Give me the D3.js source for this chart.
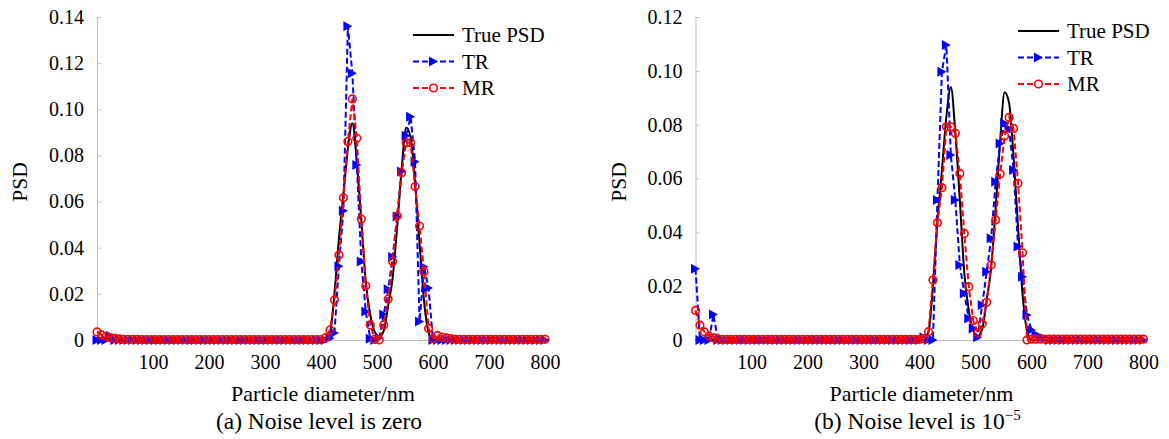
<!DOCTYPE html>
<html>
<head>
<meta charset="utf-8">
<script src="https://cdn.jsdelivr.net/npm/d3@7/dist/d3.min.js"></script>
<style>
  body { margin: 0; background: #fff; }
  svg { display: block; }
  svg text { font-family: "Liberation Serif", "Times New Roman", serif; }
</style>
</head>
<body>
<svg id="chart" width="1169" height="439"></svg>
<script>
// particle diameter grid (nm)
var diameters = [0,8,16,24,32,40,48,56,64,72,80,88,96,104,112,120,128,136,144,152,160,168,176,184,192,200,
  208,216,224,232,240,248,256,264,272,280,288,296,304,312,320,328,336,344,352,360,368,376,384,392,400,
  408,416,424,432,440,448,456,464,472,480,488,496,504,512,520,528,536,544,552,560,568,576,584,592,600,
  608,616,624,632,640,648,656,664,672,680,688,696,704,712,720,728,736,744,752,760,768,776,784,792,800];

// true PSD (same in both panels)
var truePSD = [0,0,0,0,0,0,0,0,0,0,0,0,0,0,0,0,0,0,0,0,0,0,0,0,0,0,
  0,0,0,0,0,0,0,0,0,0,0,0,0,0,0,0,0,0,0,0,0,0,0,0,0,
  0.0005,0.003,0.02,0.044,0.063,0.083,0.094,0.077,0.052,0.025,0.011,0.0035,0.0015,0.004,0.015,0.027,0.049,0.074,0.092,0.088,0.068,0.042,0.017,0.0035,0,
  0,0,0,0,0,0,0,0,0,0,0,0,0,0,0,0,0,0,0,0,0,0,0,0,0];

// (a) noise level zero
var trZero = [0,0,0,0.0018,0,0,0,0,0,0,0,0,0,0,0,0,0,0,0,0,0,0,0,0,0,0,
  0,0,0,0,0,0,0,0,0,0,0,0,0,0,0,0,0,0,0,0,0,0,0,0,0,
  0,0.0008,0.003,0.032,0.056,0.136,0.1156,0.0758,0.034,0.0123,0.0005,0,0.001,0.011,0.022,0.036,0.0535,0.073,0.0885,0.0968,0.0773,0.008,0.0318,0.0225,0,
  0,0,0,0,0,0,0,0,0,0,0,0,0,0,0,0,0,0,0,0,0,0,0,0,0];
var mrZero = [0.0035,0.0022,0.0015,0.001,0.0007,0.0005,0.0003,0.0003,0.0003,0.0003,0.0002,0.0002,0.0002,0.0002,0.0002,0.0002,0.0002,0.0002,0.0002,0.0002,0.0002,0.0002,0.0002,0.0002,0.0002,0.0002,
  0.0002,0.0002,0.0002,0.0002,0.0002,0.0002,0.0002,0.0002,0.0002,0.0002,0.0002,0.0002,0.0002,0.0002,0.0002,0.0002,0.0002,0.0002,0.0002,0.0002,0.0002,0.0002,0.0002,0.0002,0.0002,
  0.001,0.0043,0.0173,0.0368,0.0617,0.086,0.1045,0.0874,0.0524,0.0235,0.0065,0.0003,0,0.0065,0.0178,0.034,0.0537,0.0725,0.0855,0.0855,0.0665,0.0494,0.0296,0.005,0.0007,
  0.002,0.0013,0.0009,0.0006,0.0003,0.0003,0.0003,0.0003,0.0003,0.0003,0.0003,0.0003,0.0003,0.0003,0.0003,0.0003,0.0003,0.0003,0.0003,0.0003,0.0003,0.0003,0.0003,0.0003,0.0003];

// (b) noise level 1e-5
var trNoise = [0.0265,0,0,0,0.0095,0,0,0,0,0,0,0,0,0,0,0,0,0,0,0,0,0,0,0,0,0,
  0,0,0,0,0,0,0,0,0,0,0,0,0,0,0,0,0,0,0,0,0,0,0,0,0,
  0.001,0,0,0.052,0.0997,0.1096,0.0687,0.052,0.0279,0.0173,0.008,0.0043,0.001,0.013,0.0254,0.0378,0.0588,0.073,0.0805,0.0785,0.0632,0.0347,0.0235,0.0093,0.0037,
  0.002,0.0012,0.0006,0,0,0,0,0,0,0,0,0,0,0,0,0,0,0,0,0,0,0,0,0,0];
var mrNoise = [0.011,0.0055,0.003,0.0015,0.0008,0.0004,0.0002,0.0002,0.0002,0.0002,0.0002,0.0002,0.0002,0.0002,0.0002,0.0002,0.0002,0.0002,0.0002,0.0002,0.0002,0.0002,0.0002,0.0002,0.0002,0.0002,
  0.0002,0.0002,0.0002,0.0002,0.0002,0.0002,0.0002,0.0002,0.0002,0.0002,0.0002,0.0002,0.0002,0.0002,0.0002,0.0002,0.0002,0.0002,0.0002,0.0002,0.0002,0.0002,0.0002,0.0002,0.0002,
  0.0005,0.0031,0.0223,0.0436,0.0566,0.0792,0.0792,0.0768,0.0619,0.0396,0.0198,0.0072,0.0027,0.006,0.014,0.0279,0.0446,0.0617,0.0758,0.0827,0.0786,0.0582,0.0324,0,0.0003,
  0.0003,0.0003,0.0003,0.0003,0.0003,0.0003,0.0003,0.0003,0.0003,0.0003,0.0003,0.0003,0.0003,0.0003,0.0003,0.0003,0.0003,0.0003,0.0003,0.0003,0.0003,0.0003,0.0003,0.0003,0.0003];

var xTicks = [100,200,300,400,500,600,700,800];
var yTicksA = [0,0.02,0.04,0.06,0.08,0.10,0.12,0.14];
var yTicksB = [0,0.02,0.04,0.06,0.08,0.10,0.12];
var legendNames = ["True PSD","TR","MR"];

var svg = d3.select("#chart");
var axisColor = "#bfbfbf";
var serif = "'Liberation Serif', 'Times New Roman', serif";

function drawPanel(p) {
  var g = svg.append("g").attr("font-family", serif);
  var x = d3.scaleLinear().domain([0, 800]).range([p.left, p.left + 448]);
  var y = d3.scaleLinear().domain([0, p.yMax]).range([340, 17]);

  // y axis
  var ya = g.append("g").attr("transform", "translate(" + p.left + ",0)")
    .call(d3.axisLeft(y).tickValues(p.yTicks).tickSize(-4).tickSizeOuter(0).tickPadding(13)
      .tickFormat(function(d) { return d === 0 ? "0" : d.toFixed(2); }));
  // x axis
  var xa = g.append("g").attr("transform", "translate(0,340)")
    .call(d3.axisBottom(x).tickValues(xTicks).tickSize(-4).tickSizeOuter(0).tickPadding(15));
  [ya, xa].forEach(function(a) {
    a.attr("font-family", serif).attr("font-size", 20);
    a.select(".domain").attr("stroke", axisColor).attr("stroke-width", 1);
    a.selectAll(".tick line").attr("stroke", axisColor);
    a.selectAll("text").attr("fill", "#000");
  });

  // axis titles
  g.append("text")
    .attr("transform", "translate(" + p.yTitleX + ",182) rotate(-90)")
    .attr("text-anchor", "middle").attr("dy", "0.35em")
    .attr("font-size", 21.5).text("PSD");
  g.append("text").attr("x", p.left + 226).attr("y", 401)
    .attr("text-anchor", "middle").attr("font-size", 22)
    .text("Particle diameter/nm");
  var cap = g.append("text").attr("x", p.left + 222).attr("y", 429)
    .attr("text-anchor", "middle").attr("font-size", 23.5);
  cap.append("tspan").text(p.caption);
  if (p.sup) {
    cap.append("tspan").attr("dy", -9).attr("font-size", 15).text(p.sup);
  }

  var line = d3.line()
    .x(function(d, i) { return x(diameters[i]); })
    .y(function(d) { return y(d); });
  var smooth = d3.line()
    .x(function(d, i) { return x(diameters[i]); })
    .y(function(d) { return y(d); })
    .curve(d3.curveMonotoneX);

  // true PSD
  g.append("path").datum(truePSD).attr("d", smooth)
    .attr("fill", "none").attr("stroke", "#000").attr("stroke-width", 2);

  // TR
  g.append("path").datum(p.tr).attr("d", line)
    .attr("fill", "none").attr("stroke", "#0000ff").attr("stroke-width", 2)
    .attr("stroke-dasharray", "6,3");
  g.selectAll(".tri").data(p.tr).enter().append("path")
    .attr("class", "tri")
    .attr("transform", function(d, i) { return "translate(" + x(diameters[i]) + "," + y(d) + ")"; })
    .attr("d", "M-4.5,-5L4.5,0L-4.5,5Z")
    .attr("fill", "#0000ff");

  // MR
  g.append("path").datum(p.mr).attr("d", line)
    .attr("fill", "none").attr("stroke", "#ff0000").attr("stroke-width", 2)
    .attr("stroke-dasharray", "6,3");
  g.selectAll(".circ").data(p.mr).enter().append("circle")
    .attr("class", "circ")
    .attr("cx", function(d, i) { return x(diameters[i]); })
    .attr("cy", function(d) { return y(d); })
    .attr("r", 3.8)
    .attr("fill", "none").attr("stroke", "#ff0000").attr("stroke-width", 1.6);

  // legend
  var lg = g.append("g").attr("transform", "translate(" + p.legX + "," + p.legY + ")");
  legendNames.forEach(function(name, k) {
    var row = lg.append("g").attr("transform", "translate(0," + (k * 26.5) + ")");
    var ln = row.append("line").attr("x1", 0).attr("x2", 41).attr("y1", 0).attr("y2", 0)
      .attr("stroke-width", 2);
    if (k === 0) ln.attr("stroke", "#000");
    if (k === 1) {
      ln.attr("stroke", "#0000ff").attr("stroke-dasharray", "6,3");
      row.append("path").attr("transform", "translate(20.5,0)").attr("d", "M-4.5,-5L4.5,0L-4.5,5Z").attr("fill", "#0000ff");
    }
    if (k === 2) {
      ln.attr("stroke", "#ff0000").attr("stroke-dasharray", "6,3");
      row.append("circle").attr("cx", 20.5).attr("cy", 0).attr("r", 3.8)
        .attr("fill", "#fff").attr("stroke", "#ff0000").attr("stroke-width", 1.6);
    }
    row.append("text").attr("x", 49).attr("dy", "0.35em")
      .attr("font-size", 21).text(name);
  });
}

drawPanel({ left: 97, yMax: 0.14, yTicks: yTicksA, tr: trZero, mr: mrZero,
  yTitleX: 19, caption: "(a) Noise level is zero", legX: 413, legY: 35 });
drawPanel({ left: 695.5, yMax: 0.12, yTicks: yTicksB, tr: trNoise, mr: mrNoise,
  yTitleX: 618, caption: "(b) Noise level is 10", sup: "\u22125", legX: 1018, legY: 31 });
</script>
</body>
</html>
